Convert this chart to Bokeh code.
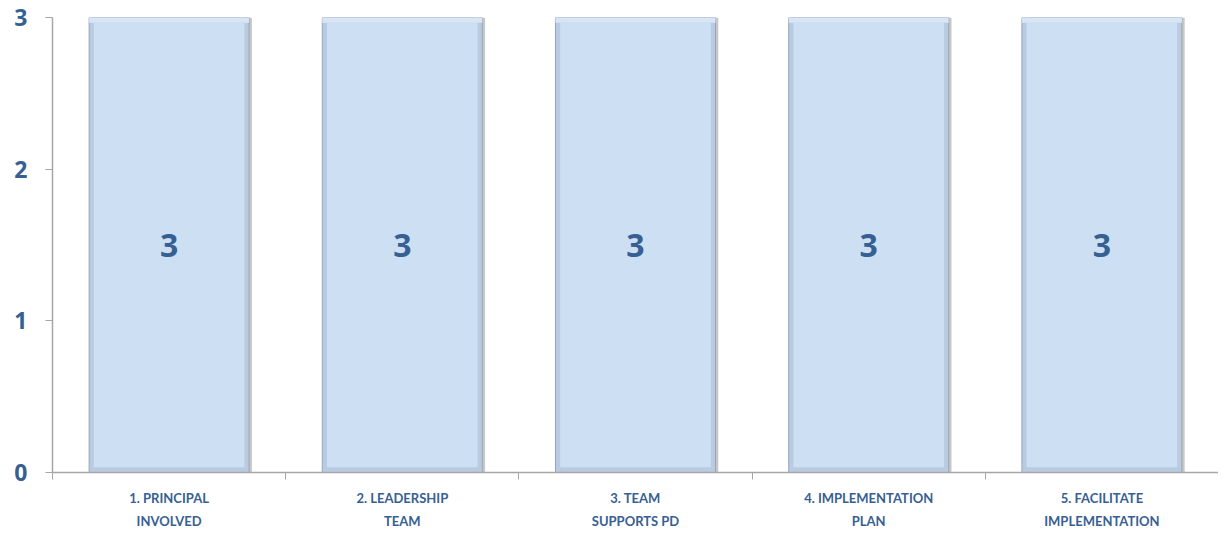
from bokeh.plotting import figure
from bokeh.models import ColumnDataSource, FixedTicker, Range1d
from bokeh.core.properties import value
from bokeh.embed import file_html
from bokeh.resources import INLINE

categories = ["1. PRINCIPAL\nINVOLVED", "2. LEADERSHIP\nTEAM", "3. TEAM\nSUPPORTS PD",
              "4. IMPLEMENTATION\nPLAN", "5. FACILITATE\nIMPLEMENTATION"]
values = [3, 3, 3, 3, 3]
y_ticks = [0, 1, 2, 3]

BLUE = "#376092"
FONT = "Lato"
NUMFONT = "Open Sans"

centers = [i + 0.5 for i in range(len(categories))]
half = 0.343
src = ColumnDataSource(dict(
    x=centers,
    left=[c - half for c in centers],
    right=[c + half for c in centers],
    sleft=[c - half + 0.01 for c in centers],
    sright=[c + half + 0.012 for c in centers],
    top=values,
    bottom=[0] * len(values),
    ileft=[c - half + 0.02 for c in centers],
    iright=[c + half - 0.02 for c in centers],
    itop=[v - 0.035 for v in values],
    ibottom=[0.035] * len(values),
    ly=[v / 2 for v in values],
    lbl=[str(v) for v in values],
))

p = figure(width=1218, height=531, output_backend="svg", toolbar_location=None,
           x_range=Range1d(0, 5), y_range=Range1d(0, 3),
           min_border_left=52, min_border_right=0, min_border_top=17, min_border_bottom=55)
p.outline_line_color = None
p.xgrid.grid_line_color = None
p.ygrid.grid_line_color = None
p.background_fill_color = "white"
p.border_fill_color = "white"

# shadow
p.quad(left="sleft", right="sright", top="top", bottom="bottom", source=src,
       fill_color="#a9b0b8", line_color=None, fill_alpha=0.7)
# outer bevel
p.quad(left="left", right="right", top="top", bottom="bottom", source=src,
       fill_color="#b8cbe2", line_color="#9aa6b3", line_width=1)
# top bevel lighter
p.quad(left="left", right="right", top="top", bottom="itop", source=src,
       fill_color="#d8e5f5", line_color=None)
# inner face
p.quad(left="ileft", right="iright", top="itop", bottom="ibottom", source=src,
       fill_color="#cddff3", line_color=None)

p.text(x="x", y="ly", text="lbl", source=src, text_align="center", text_baseline="middle",
       text_font=value(NUMFONT), text_font_style="bold", text_font_size="32px", text_color=BLUE)

# x axis
xa = p.xaxis[0]
xa.ticker = FixedTicker(ticks=centers, minor_ticks=list(range(len(categories) + 1)))
xa.major_label_overrides = {c: lab for c, lab in zip(centers, categories)}
xa.major_tick_line_color = None
xa.major_tick_out = 0
xa.major_tick_in = 0
xa.minor_tick_line_color = "#a6a6a6"
xa.minor_tick_out = 7
xa.minor_tick_in = 0
xa.axis_line_color = "#a6a6a6"
xa.axis_line_width = 1.5
xa.major_label_text_font = FONT
xa.major_label_text_font_style = "bold"
xa.major_label_text_font_size = "13px"
xa.major_label_text_color = BLUE
xa.major_label_standoff = 10
xa.major_label_text_line_height = 1.45

ya = p.yaxis[0]
ya.ticker = FixedTicker(ticks=y_ticks)
ya.minor_tick_line_color = None
ya.major_tick_line_color = "#a6a6a6"
ya.major_tick_out = 7
ya.major_tick_in = 0
ya.axis_line_color = "#a6a6a6"
ya.axis_line_width = 1.5
ya.major_label_text_font = NUMFONT
ya.major_label_text_font_style = "bold"
ya.major_label_text_font_size = "23px"
ya.major_label_text_color = BLUE
ya.major_label_standoff = 18

open("out.html", "w").write(file_html(p, INLINE))
